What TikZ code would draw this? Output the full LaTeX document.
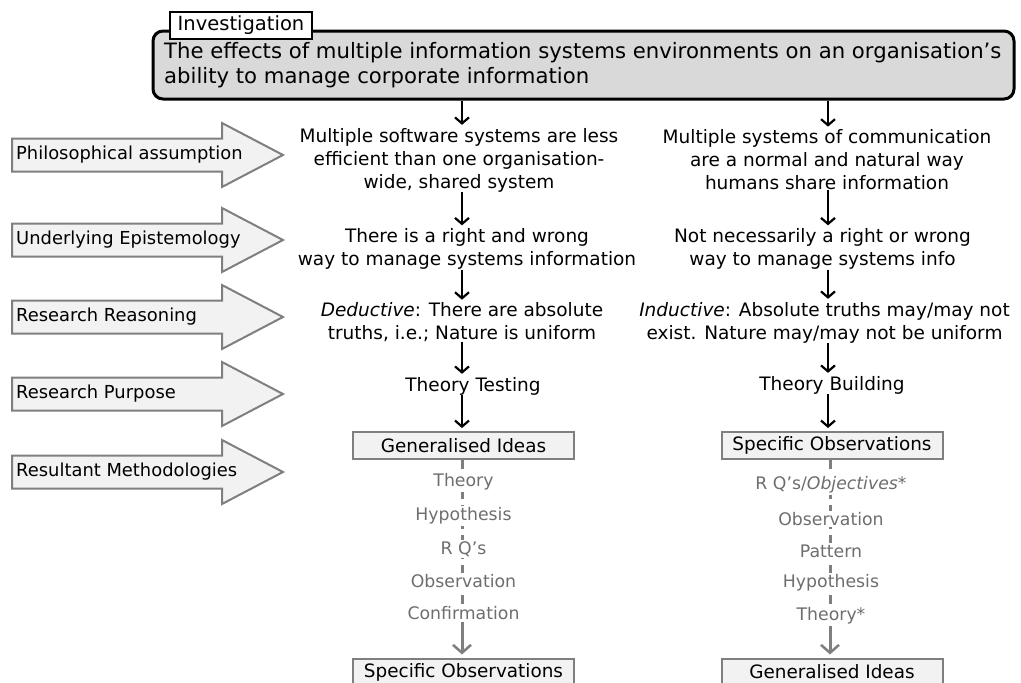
\documentclass[tikz,border=0pt]{standalone}
\usepackage{fontspec}
\setmainfont{DejaVu Sans}
\usetikzlibrary{arrows.meta}
\definecolor{boxgrey}{HTML}{D9D9D9}
\definecolor{paleface}{HTML}{F2F2F2}
\definecolor{edgegrey}{HTML}{7F7F7F}
\definecolor{stepgrey}{HTML}{6E6E6E}
\begin{document}
\begin{tikzpicture}[x=1pt,y=-1pt,
  bodytext/.style={font=\fontsize{18.5}{23}\selectfont, align=center, inner sep=0pt},
  flow/.style={line width=2.2pt, shorten >=3pt,
    -{Straight Barb[length=6pt,width=14pt,line width=2.2pt]}},
  greyflow/.style={draw=edgegrey, line width=3pt,
    -{Straight Barb[length=8pt,width=18pt,line width=2.5pt]}},
  dashflow/.style={draw=edgegrey, line width=3pt, dash pattern=on 9pt off 6pt},
  stepbox/.style={draw=edgegrey, fill=paleface, line width=2pt,
    minimum width=221pt, minimum height=27pt, inner sep=0pt,
    font=\fontsize{18.4}{20}\selectfont},
  steplabel/.style={fill=white, text=stepgrey, inner sep=1.5pt,
    font=\fontsize{17.3}{20}\selectfont},
  sideshape/.style={draw=edgegrey, fill=paleface, line width=2pt, line join=miter},
  sidetext/.style={anchor=west, inner sep=0pt, font=\fontsize{17.9}{20}\selectfont}]
\useasboundingbox (0,0) rectangle (1021,683);

% investigation header
\node[draw, fill=boxgrey, line width=3pt, rounded corners=10pt,
      minimum width=861pt, minimum height=68pt] (top) at (583.5,65) {};
\node[anchor=west, align=left, inner sep=0pt, font=\fontsize{21.2}{25}\selectfont]
  (toptext) at (164,65) {The effects of multiple information systems environments on an organisation’s\\ability to manage corporate information};
\node[draw, fill=white, line width=2pt, minimum width=142pt, minimum height=27pt,
      inner sep=0pt, font=\fontsize{19.5}{20}\selectfont] (inv) at (241,25.5) {Investigation};

% row labels on the left
\foreach \yc/\lab/\nm in {155/Philosophical assumption/pa,
                          240/Underlying Epistemology/ue,
                          317/Research Reasoning/rr,
                          394/Research Purpose/rp,
                          472/Resultant Methodologies/rm} {
  \draw[sideshape] (12,\yc-16.5) -- (222,\yc-16.5) -- (222,\yc-32) -- (283,\yc)
     -- (222,\yc+32) -- (222,\yc+16.5) -- (12,\yc+16.5) -- cycle;
  \node[sidetext] (\nm) at (16,\yc) {\lab};
}

% left column: deductive route
\node[bodytext] (l1) at (459,160) {Multiple software systems are less\\efficient than one organisation-\\wide, shared system};
\node[bodytext] (l2) at (467,249) {There is a right and wrong\\way to manage systems information};
\node[bodytext] (l3) at (462,322.5) {\textit{Deductive}: There are absolute\\truths, i.e.; Nature is uniform};
\node[bodytext] (l4) at (473,386) {Theory Testing};
\node[stepbox] (lgen) at (463.5,445.5) {Generalised Ideas};
\node[stepbox] (lspec) at (463.5,672) {Specific Observations};

\draw[flow] (top.south -| 462,0) -- (l1.north -| 462,0);
\draw[flow] (l1.south -| 462,0) -- (l2.north -| 462,0);
\draw[flow] (l2.south -| 462,0) -- (l3.north -| 462,0);
\draw[flow] (l3.south -| 462,0) -- (l4.north -| 462,0);
\draw[flow] (l4.south -| 462,0) -- (lgen.north -| 462,0);

\draw[dashflow] (lgen.south -| 462,0) -- ([yshift=34pt]lspec.north -| 462,0);
\draw[greyflow] ([yshift=36pt]lspec.north -| 462,0) -- ([yshift=3pt]lspec.north -| 462,0);
\node[steplabel] (lt1) at (463.5,482) {Theory};
\node[steplabel] (lt2) at (463.5,516) {Hypothesis};
\node[steplabel] (lt3) at (463.5,549) {R Q’s};
\node[steplabel] (lt4) at (463.5,581) {Observation};
\node[steplabel] (lt5) at (463.5,613) {Confirmation};

% right column: inductive route
\node[bodytext] (r1) at (827,160) {Multiple systems of communication\\are a normal and natural way\\humans share information};
\node[bodytext] (r2) at (822.5,249) {Not necessarily a right or wrong\\way to manage systems info};
\node[bodytext] (r3) at (824.5,322.5) {\textit{Inductive}: Absolute truths may/may not\\exist. Nature may/may not be uniform};
\node[bodytext] (r4) at (832,385) {Theory Building};
\node[stepbox] (rspec) at (832,445.5) {Specific Observations};
\node[stepbox] (rgen) at (832,672) {Generalised Ideas};

\draw[flow] (top.south -| 828,0) -- (r1.north -| 828,0);
\draw[flow] (r1.south -| 828,0) -- (r2.north -| 828,0);
\draw[flow] (r2.south -| 828,0) -- (r3.north -| 828,0);
\draw[flow] (r3.south -| 828,0) -- (r4.north -| 828,0);
\draw[flow] (r4.south -| 828,0) -- (rspec.north -| 828,0);

\draw[dashflow] (rspec.south -| 830,0) -- ([yshift=34pt]rgen.north -| 830,0);
\draw[greyflow] ([yshift=36pt]rgen.north -| 830,0) -- ([yshift=3pt]rgen.north -| 830,0);
\node[steplabel] (rt1) at (831,485) {R Q’s/\textit{Objectives}*};
\node[steplabel] (rt2) at (831,519) {Observation};
\node[steplabel] (rt3) at (831,551) {Pattern};
\node[steplabel] (rt4) at (831,583) {Hypothesis};
\node[steplabel] (rt5) at (831,616) {Theory*};
\end{tikzpicture}
\end{document}
